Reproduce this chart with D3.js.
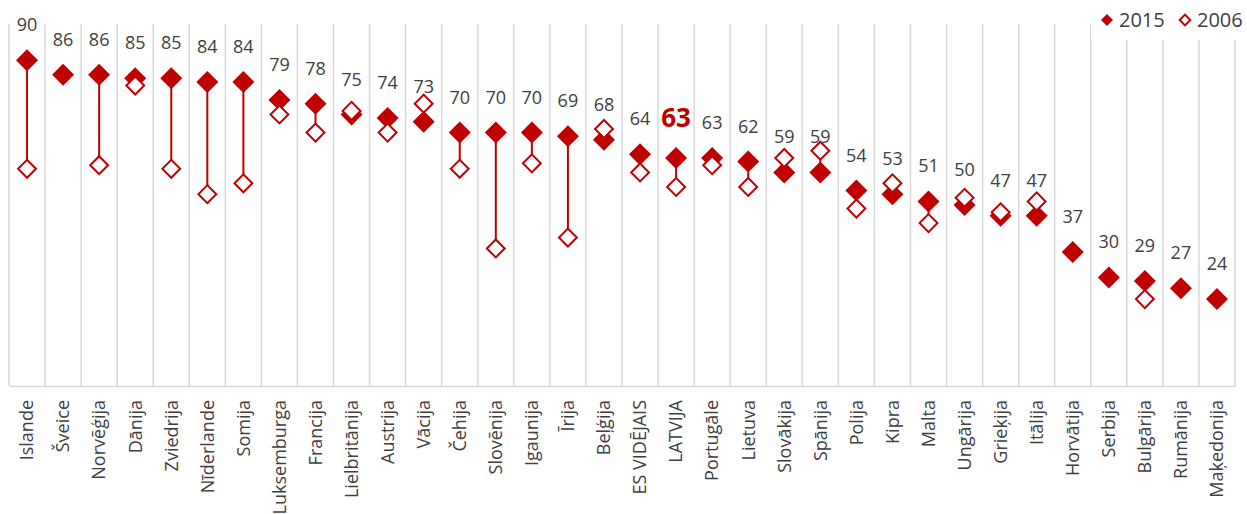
<!DOCTYPE html>
<html>
<head>
<meta charset="utf-8">
<script src="https://cdn.jsdelivr.net/npm/d3@7"></script>
<style>
  html, body { margin: 0; padding: 0; background: #fff; }
  svg { display: block; font-family: "Open Sans", sans-serif; }
</style>
</head>
<body>
<svg id="chart" width="1247" height="514"></svg>
<script>
// Countries, ordered by the 2015 score
const countries = ["Islande", "Šveice", "Norvēģija", "Dānija", "Zviedrija", "Nīderlande", "Somija",
  "Luksemburga", "Francija", "Lielbritānija", "Austrija", "Vācija", "Čehija", "Slovēnija", "Igaunija",
  "Īrija", "Beļģija", "ES VIDĒJAIS", "LATVIJA", "Portugāle", "Lietuva", "Slovākija", "Spānija", "Polija",
  "Kipra", "Malta", "Ungārija", "Grieķija", "Itālija", "Horvātija", "Serbija", "Bulgārija", "Rumānija",
  "Maķedonija"];
const values2015 = [90, 86, 86, 85, 85, 84, 84, 79, 78, 75, 74, 73, 70, 70, 70, 69, 68, 64, 63, 63, 62,
  59, 59, 54, 53, 51, 50, 47, 47, 37, 30, 29, 27, 24];
const values2006 = [60, null, 61, 83, 60, 53, 56, 75, 70, 76, 70, 78, 60, 38, 61.5, 41, 71, 59, 55, 61, 55,
  63, 65, 49, 56, 45, 52, 48, 51, null, null, 24, null, null];
const seriesNames = ["2015", "2006"];
const highlight = "LATVIJA";

const red = "#C00000";
const textGrey = "#404040";
const gridGrey = "#D9D9D9";

const svg = d3.select("#chart");
const plotLeft = 9, plotRight = 1235, plotTop = 24, plotBottom = 386;

const x = d3.scaleBand().domain(countries).range([plotLeft, plotRight]).paddingInner(0).paddingOuter(0);
const y = d3.scaleLinear().domain([0, 100]).range([plotBottom, plotTop]);

const rows = countries.map((c, i) => ({ c, v15: values2015[i], v06: values2006[i] }));
const cx = d => x(d.c) + x.bandwidth() / 2;

// Vertical category separators
const bounds = countries.map(c => x(c)).concat([plotRight]);
svg.append("g").selectAll("line").data(bounds).join("line")
  .attr("x1", d => d).attr("x2", d => d)
  .attr("y1", plotTop).attr("y2", plotBottom)
  .attr("stroke", gridGrey).attr("stroke-width", 1.5);

// Category axis along the bottom
const xAxis = svg.append("g").attr("transform", `translate(0,${plotBottom})`)
  .call(d3.axisBottom(x).tickSize(0).tickPadding(0));
xAxis.select(".domain").attr("stroke", gridGrey).attr("stroke-width", 1.5);
xAxis.selectAll(".tick text")
  .attr("transform", "rotate(-90)")
  .attr("text-anchor", "end")
  .attr("x", -14).attr("y", 0).attr("dy", "0.35em")
  .attr("fill", textGrey)
  .style("font-family", "'Open Sans', sans-serif")
  .style("font-size", "18px");

// Connectors between the two years
svg.append("g").selectAll("line").data(rows.filter(d => d.v06 != null)).join("line")
  .attr("x1", cx).attr("x2", cx)
  .attr("y1", d => y(d.v15)).attr("y2", d => y(d.v06))
  .attr("stroke", red).attr("stroke-width", 2);

const diamond = size => d3.symbol(d3.symbolSquare, size)();

// 2015 markers (filled)
svg.append("g").selectAll("path").data(rows).join("path")
  .attr("d", diamond(242))
  .attr("transform", d => `translate(${cx(d)},${y(d.v15)}) rotate(45)`)
  .attr("fill", red);

// 2006 markers (hollow)
svg.append("g").selectAll("path").data(rows.filter(d => d.v06 != null)).join("path")
  .attr("d", diamond(160))
  .attr("transform", d => `translate(${cx(d)},${y(d.v06)}) rotate(45)`)
  .attr("fill", "#fff").attr("stroke", red).attr("stroke-width", 2);

// Value labels for 2015
svg.append("g").selectAll("text").data(rows).join("text")
  .attr("x", cx)
  .attr("y", d => y(d.v15) - (d.c === highlight ? 31 : 29))
  .attr("text-anchor", "middle")
  .attr("fill", d => d.c === highlight ? red : textGrey)
  .style("font-size", d => d.c === highlight ? "26px" : "18px")
  .style("font-weight", d => d.c === highlight ? "bold" : "normal")
  .text(d => d.v15);

// Legend
const legend = svg.append("g");
legend.append("rect").attr("x", 1091).attr("y", 0).attr("width", 156).attr("height", 40).attr("fill", "#fff");
const legendItems = [
  { name: seriesNames[0], x: 1107, filled: true },
  { name: seriesNames[1], x: 1185, filled: false }
];
legendItems.forEach(it => {
  legend.append("path")
    .attr("d", diamond(it.filled ? 72 : 56))
    .attr("transform", `translate(${it.x},20) rotate(45)`)
    .attr("fill", it.filled ? red : "#fff")
    .attr("stroke", it.filled ? "none" : red)
    .attr("stroke-width", 2);
  legend.append("text")
    .attr("x", it.x + 12).attr("y", 20).attr("dy", "0.36em")
    .attr("fill", textGrey)
    .style("font-size", "20px")
    .text(it.name);
});
</script>
</body>
</html>
